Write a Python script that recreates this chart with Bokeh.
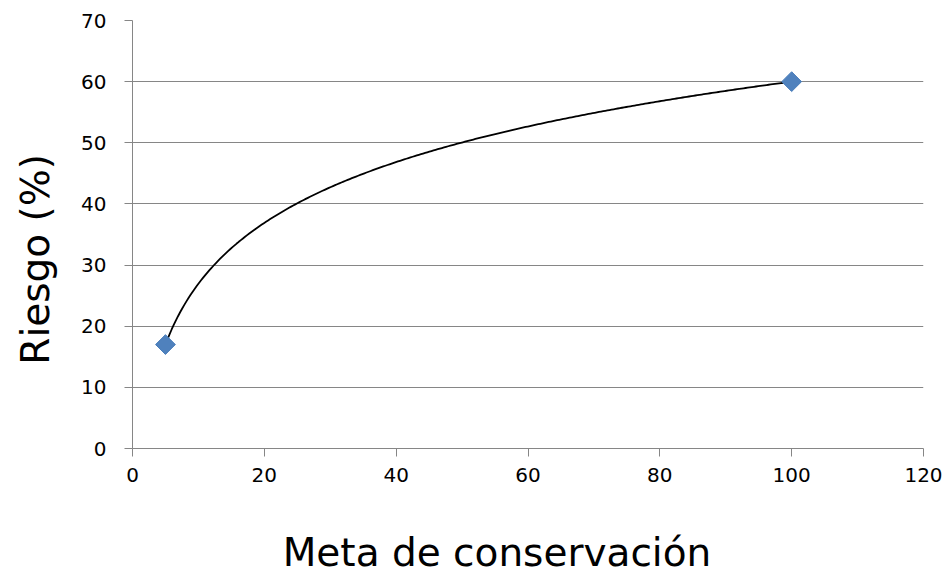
import numpy as np
from bokeh.plotting import figure
from bokeh.models import Range1d, FixedTicker
from bokeh.embed import file_html
from bokeh.resources import INLINE

# Data
meta = [5, 100]          # Meta de conservación
riesgo = [17, 60]        # Riesgo (%)
x_ticks = [0, 20, 40, 60, 80, 100, 120]
y_ticks = [0, 10, 20, 30, 40, 50, 60, 70]
x_title = "Meta de conservación"
y_title = "Riesgo (%)"

FONT = "DejaVu Sans"
GRID = "#868686"
NBSP = "\u00a0"

p = figure(width=947, height=578, output_backend="svg", toolbar_location=None,
           x_range=Range1d(0, 120), y_range=Range1d(0, 70),
           min_border_left=132, min_border_right=24, min_border_top=20,
           min_border_bottom=130)
p.outline_line_color = None
p.background_fill_color = "white"
p.border_fill_color = "white"

# Axes
for ax in (p.xaxis, p.yaxis):
    ax.axis_line_color = GRID
    ax.axis_line_width = 1
    ax.major_tick_line_color = GRID
    ax.major_tick_in = 0
    ax.major_tick_out = 8
    ax.minor_tick_line_color = None
    ax.major_label_text_font = FONT
    ax.major_label_text_font_size = "20px"
    ax.major_label_text_color = "black"
    ax.axis_label_text_font = FONT
    ax.axis_label_text_font_size = "39px"
    ax.axis_label_text_font_style = "normal"
    ax.axis_label_text_color = "black"
p.xaxis.ticker = FixedTicker(ticks=x_ticks)
p.yaxis.ticker = FixedTicker(ticks=y_ticks)
p.xaxis.major_label_standoff = 11
p.yaxis.major_label_standoff = 18
# titles sit a little off-centre in the original; non-breaking spaces shift them
p.xaxis.axis_label = x_title + NBSP * 5
p.yaxis.axis_label = y_title + NBSP * 4
p.xaxis.axis_label_standoff = 45
p.yaxis.axis_label_standoff = 20

p.xgrid.grid_line_color = None
p.ygrid.grid_line_color = GRID
p.ygrid.grid_line_width = 1
p.ygrid.ticker = FixedTicker(ticks=y_ticks)

# Logarithmic trend line fitted to the data
a, b = np.polyfit(np.log(meta), riesgo, 1)
xs = np.linspace(min(meta), max(meta), 300)
p.line(xs, a * np.log(xs) + b, line_color="black", line_width=1.8)

# Data markers
p.scatter(meta, riesgo, marker="square", size=14, angle=np.pi / 4,
          fill_color="#4F81BD", line_color="#4A7EBB", line_width=1)

open("out.html", "w").write(file_html(p, INLINE))
